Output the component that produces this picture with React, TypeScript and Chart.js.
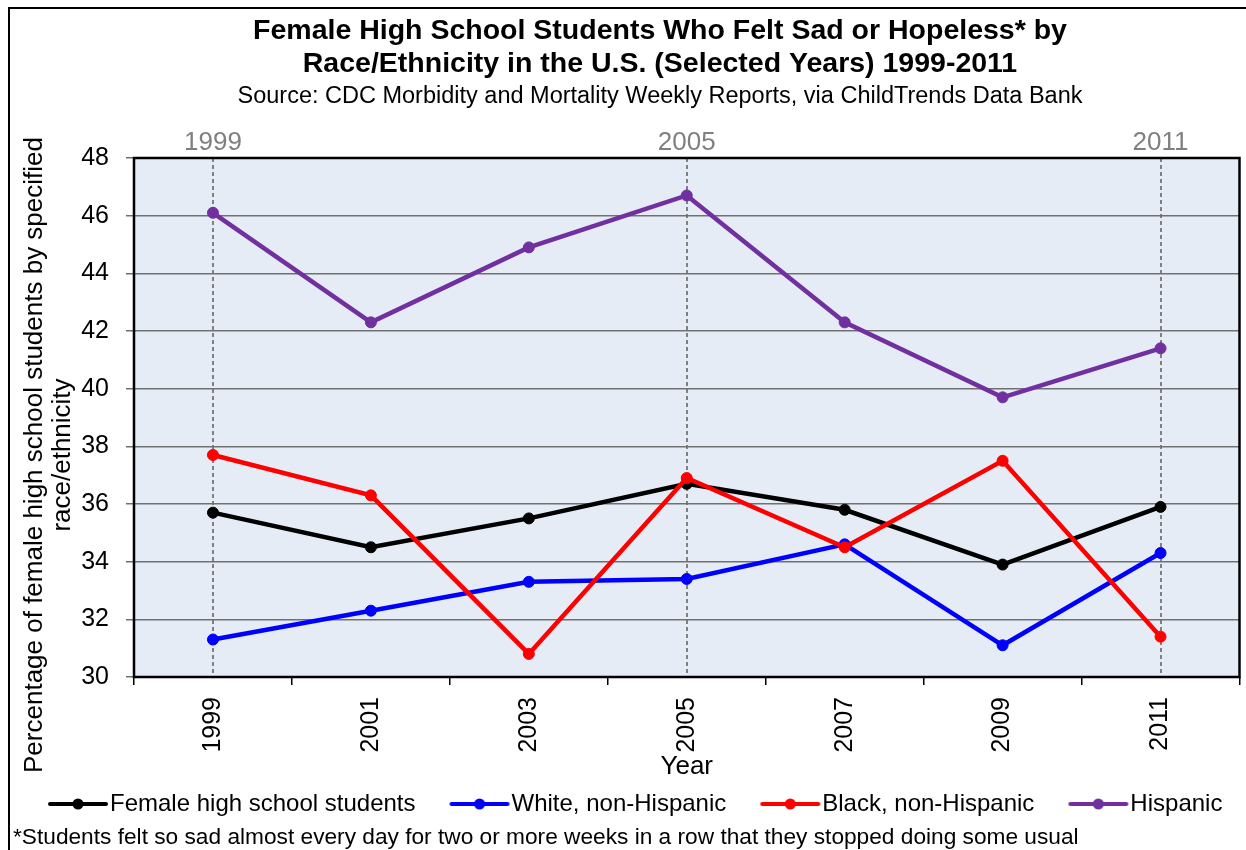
import React, { useEffect, useRef } from 'react';
import { Chart, registerables } from 'chart.js';

Chart.register(...registerables);

// ---------- data ----------
const YEARS = ['1999', '2001', '2003', '2005', '2007', '2009', '2011'];
const TOP_YEAR_INDICES = [0, 3, 6];

const FEMALE_ALL = [35.7, 34.5, 35.5, 36.7, 35.8, 33.9, 35.9];
const WHITE_NH = [31.3, 32.3, 33.3, 33.4, 34.6, 31.1, 34.3];
const BLACK_NH = [37.7, 36.3, 30.8, 36.9, 34.5, 37.5, 31.4];
const HISPANIC = [46.1, 42.3, 44.9, 46.7, 42.3, 39.7, 41.4];

const SERIES_NAMES = [
  'Female high school students',
  'White, non-Hispanic',
  'Black, non-Hispanic',
  'Hispanic',
];
const SERIES_COLORS = ['#000000', '#0000FF', '#FF0000', '#7030A0'];
const SERIES_ORDER = [4, 3, 2, 1];

const Y_MIN = 30;
const Y_MAX = 48;
const Y_STEP = 2;

const TITLE_LINES = [
  'Female High School Students Who Felt Sad or Hopeless* by',
  'Race/Ethnicity in the U.S. (Selected Years) 1999-2011',
];
const SUBTITLE = 'Source: CDC Morbidity and Mortality Weekly Reports, via ChildTrends Data Bank';
const Y_TITLE_LINES = ['Percentage of female high school students by specified', 'race/ethnicity'];
const X_TITLE = 'Year';
const FOOTNOTE =
  '*Students felt so sad almost every day for two or more weeks in a row that they stopped doing some usual';

const FONT = "'Liberation Sans', Arial, Helvetica, sans-serif";
const PLOT_BG = '#E6ECF6';

function legendGlyph(color: string): HTMLCanvasElement {
  const c = document.createElement('canvas');
  c.width = 110;
  c.height = 16;
  const g = c.getContext('2d')!;
  g.strokeStyle = color;
  g.lineWidth = 4;
  g.lineCap = 'round';
  g.beginPath();
  g.moveTo(48, 8);
  g.lineTo(104, 8);
  g.stroke();
  g.fillStyle = color;
  g.beginPath();
  g.arc(76, 8, 5.5, 0, Math.PI * 2);
  g.fill();
  return c;
}

const decorPlugin = {
  id: 'decor',
  beforeDraw(chart: any) {
    const { ctx, chartArea: a } = chart;
    ctx.save();
    ctx.fillStyle = '#ffffff';
    ctx.fillRect(0, 0, chart.width, chart.height);
    ctx.fillStyle = PLOT_BG;
    ctx.fillRect(a.left, a.top, a.right - a.left, a.bottom - a.top);
    ctx.restore();
  },
  afterDraw(chart: any) {
    const { ctx, chartArea: a } = chart;
    ctx.save();
    // plot border
    ctx.strokeStyle = '#000';
    ctx.lineWidth = 2.5;
    ctx.strokeRect(a.left, a.top, a.right - a.left, a.bottom - a.top);
    // outer frame
    ctx.lineWidth = 2;
    ctx.strokeRect(9, 8, 1400, 1000);
    // titles
    ctx.fillStyle = '#000';
    ctx.textAlign = 'center';
    ctx.textBaseline = 'middle';
    ctx.font = `bold 28.5px ${FONT}`;
    ctx.fillText(TITLE_LINES[0], 660, 31);
    ctx.fillText(TITLE_LINES[1], 660, 64);
    ctx.font = `23.5px ${FONT}`;
    ctx.fillText(SUBTITLE, 660, 97);
    // y-axis title
    ctx.save();
    ctx.font = `26px ${FONT}`;
    ctx.translate(35, 455);
    ctx.rotate(-Math.PI / 2);
    ctx.fillText(Y_TITLE_LINES[0], 0, 0);
    ctx.fillText(Y_TITLE_LINES[1], 0, 28);
    ctx.restore();
    // footnote
    ctx.textAlign = 'left';
    ctx.font = `22.7px ${FONT}`;
    ctx.fillText(FOOTNOTE, 13, 838);
    ctx.restore();
  },
};

export default function App() {
  const canvasRef = useRef<HTMLCanvasElement | null>(null);

  useEffect(() => {
    if (!canvasRef.current) return;
    Chart.defaults.font.family = FONT;
    Chart.defaults.color = '#000';

    const seriesValues = [FEMALE_ALL, WHITE_NH, BLACK_NH, HISPANIC];
    const glyphs = SERIES_COLORS.map(legendGlyph);

    const chart = new Chart(canvasRef.current, {
      type: 'line',
      data: {
        labels: YEARS,
        datasets: seriesValues.map((vals, i) => ({
          label: SERIES_NAMES[i],
          data: vals,
          borderColor: SERIES_COLORS[i],
          backgroundColor: SERIES_COLORS[i],
          pointBackgroundColor: SERIES_COLORS[i],
          pointBorderColor: SERIES_COLORS[i],
          pointBorderWidth: 1,
          pointRadius: 5.5,
          pointHoverRadius: 5.5,
          borderWidth: 4.5,
          tension: 0,
          order: SERIES_ORDER[i],
          xAxisID: 'x',
          yAxisID: 'y',
        })),
      },
      options: {
        responsive: false,
        animation: false,
        events: [],
        layout: { padding: { top: 109, left: 14, right: 4, bottom: 24 } },
        plugins: {
          title: { display: false },
          tooltip: { enabled: false },
          legend: {
            position: 'bottom',
            align: 'start',
            labels: {
              usePointStyle: true,
              pointStyleWidth: 82,
              padding: 2,
              color: '#000',
              font: { size: 24, family: FONT },
              generateLabels: (c: any) => {
                const items = (Chart.defaults.plugins.legend.labels as any).generateLabels(c);
                items.forEach((it: any) => {
                  it.pointStyle = glyphs[it.datasetIndex];
                });
                return items.sort((p: any, q: any) => p.datasetIndex - q.datasetIndex);
              },
            },
          },
        },
        scales: {
          x: {
            type: 'category',
            position: 'bottom',
            offset: true,
            grid: { offset: true, drawOnChartArea: false, tickLength: 8, color: '#000', lineWidth: 1.5 },
            border: { display: false },
            ticks: { minRotation: 90, maxRotation: 90, padding: 12, autoSkip: false, color: '#000', font: { size: 25 } },
            title: { display: true, text: X_TITLE, color: '#000', font: { size: 26 }, padding: { top: 0, bottom: 8 } },
            afterFit: (s: any) => {
              s.height = 113;
            },
          },
          x2: {
            type: 'category',
            position: 'top',
            offset: true,
            grid: {
              offset: false,
              drawTicks: false,
              lineWidth: 2,
              color: (c: any) => (TOP_YEAR_INDICES.includes(c.index) ? '#808080' : 'rgba(0,0,0,0)'),
            },
            border: { display: false, dash: [4, 3] },
            ticks: {
              autoSkip: false,
              maxRotation: 0,
              padding: 0,
              color: '#808080',
              font: { size: 26 },
              callback: (_v: any, i: number) => (TOP_YEAR_INDICES.includes(i) ? YEARS[i] : ''),
            },
            afterFit: (s: any) => {
              s.height = 49;
            },
          },
          y: {
            type: 'linear',
            min: Y_MIN,
            max: Y_MAX,
            ticks: { stepSize: Y_STEP, padding: 17, color: '#000', font: { size: 25 } },
            grid: { color: '#707070', lineWidth: 1.5, tickLength: 8 },
            border: { display: false },
            afterFit: (s: any) => {
              s.width = 120;
            },
          },
        },
      } as any,
      plugins: [decorPlugin],
    });

    return () => chart.destroy();
  }, []);

  return (
    <div style={{ position: 'absolute', left: 0, top: 0, width: 1246, height: 850, overflow: 'hidden' }}>
      <canvas ref={canvasRef} width={1246} height={850} style={{ width: 1246, height: 850, display: 'block' }} />
    </div>
  );
}
